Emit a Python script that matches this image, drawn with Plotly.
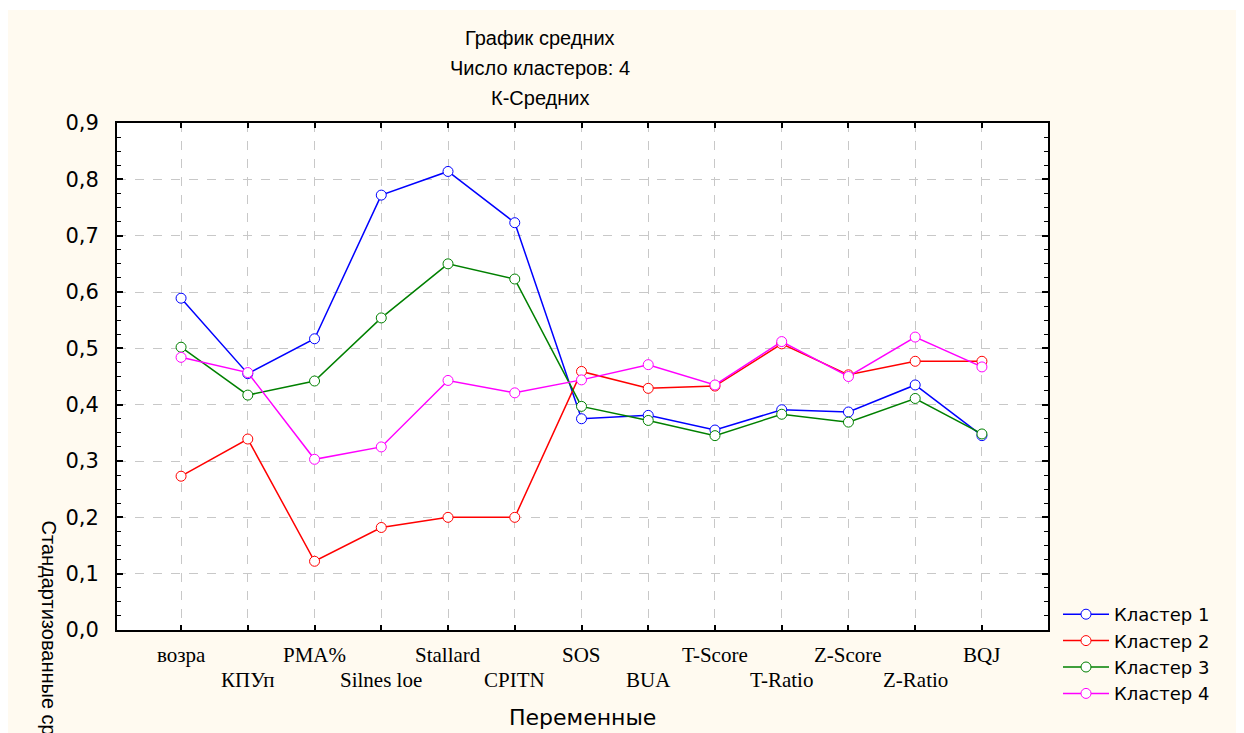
import plotly.graph_objects as go

categories = ["возра", "КПУп", "PMA%", "Silnes loe", "Stallard", "CPITN", "SOS",
              "BUA", "T-Score", "T-Ratio", "Z-Score", "Z-Ratio", "BQJ"]
cluster1 = [0.589, 0.455, 0.517, 0.772, 0.814, 0.723, 0.375, 0.381, 0.355, 0.391, 0.387, 0.435, 0.345]
cluster2 = [0.273, 0.339, 0.122, 0.182, 0.200, 0.200, 0.459, 0.429, 0.433, 0.508, 0.453, 0.477, 0.477]
cluster3 = [0.502, 0.417, 0.442, 0.554, 0.650, 0.623, 0.397, 0.372, 0.345, 0.383, 0.369, 0.411, 0.348]
cluster4 = [0.484, 0.457, 0.303, 0.325, 0.443, 0.421, 0.444, 0.471, 0.435, 0.512, 0.450, 0.520, 0.467]
series_names = ["Кластер 1", "Кластер 2", "Кластер 3", "Кластер 4"]
series_colors = ["#0000FF", "#FF0000", "#008000", "#FF00FF"]
y_ticks = [0.0, 0.1, 0.2, 0.3, 0.4, 0.5, 0.6, 0.7, 0.8, 0.9]
title_lines = ["График средних", "Число кластеров: 4", "К-Средних"]

OFF = 8  # page body margin
W, H = 1244 - OFF, 733 - OFF
L, T = 117 - OFF, 123 - OFF
R = W - (1048 - OFF)
B = H - (630 - OFF)
pw, ph = W - L - R, H - T - B

fig = go.Figure()
for name, vals, col in zip(series_names, [cluster1, cluster2, cluster3, cluster4], series_colors):
    fig.add_trace(go.Scatter(
        x=categories, y=vals, name=name, mode="lines+markers",
        line=dict(color=col, width=1.5),
        marker=dict(symbol="circle", size=10, color="white", line=dict(color=col, width=1)),
    ))

def px_x(p):
    return (p - OFF - L) / pw

def px_y(p):
    return (H - B - (p - OFF)) / ph

cream = "#FFFAF0"
shapes = [
    dict(type="rect", xref="paper", yref="paper", x0=0, x1=1, y0=0, y1=1,
         fillcolor="white", line=dict(width=0), layer="below"),
    dict(type="rect", xref="paper", yref="paper", x0=px_x(0), x1=1.3, y0=px_y(10), y1=px_y(0),
         fillcolor="white", line=dict(width=0), layer="below"),
]

annotations = []
for i, t in enumerate(title_lines):
    annotations.append(dict(text=t, xref="paper", yref="paper", x=px_x(540), y=px_y(38 + 30 * i),
                            xanchor="center", yanchor="middle", showarrow=False,
                            font=dict(family="Liberation Sans, Arial", size=20, color="black")))
for i, c in enumerate(categories):
    yrow = 655 if i % 2 == 0 else 680
    annotations.append(dict(text=c, xref="x", yref="paper", x=c, y=px_y(yrow),
                            xanchor="center", yanchor="middle", showarrow=False,
                            font=dict(family="Liberation Serif, Times New Roman", size=21, color="black")))
annotations.append(dict(text="Переменные", xref="paper", yref="paper", x=px_x(582), y=px_y(717),
                        xanchor="center", yanchor="middle", showarrow=False,
                        font=dict(family="DejaVu Sans, Arial", size=22, color="black")))
annotations.append(dict(text="Стандартизованные средние", xref="paper", yref="paper",
                        x=px_x(49), y=px_y(518), xanchor="center", yanchor="top",
                        textangle=90, showarrow=False,
                        font=dict(family="Liberation Sans, Arial", size=20, color="black")))

fig.update_layout(
    width=W, height=H, autosize=False,
    margin=dict(l=L, r=R, t=T, b=B, pad=0),
    paper_bgcolor=cream, plot_bgcolor="white",
    separators=",.",
    shapes=shapes, annotations=annotations,
    showlegend=True,
    legend=dict(x=px_x(1058), y=px_y(596), xanchor="left", yanchor="top",
                bgcolor="rgba(0,0,0,0)", borderwidth=0, itemwidth=46,
                font=dict(family="DejaVu Sans, Arial", size=18, color="black"),
                tracegroupgap=0),
    xaxis=dict(
        type="category", range=[-0.96, 12.99], showticklabels=False,
        ticks="inside", ticklen=5, tickwidth=1.5, tickcolor="black",
        showline=True, linecolor="black", linewidth=2, mirror="ticks",
        showgrid=True, gridcolor="#c8c8c8", griddash="dash", gridwidth=1,
        zeroline=False,
    ),
    yaxis=dict(
        range=[0, 0.9], tickvals=y_ticks, tickformat=".1f",
        ticks="inside", ticklen=6, tickwidth=1.5, tickcolor="black",
        minor=dict(dtick=0.025, ticks="inside", ticklen=4, tickwidth=1.2, tickcolor="black", showgrid=False),
        showline=True, linecolor="black", linewidth=2, mirror="ticks",
        showgrid=True, gridcolor="#c8c8c8", griddash="dash", gridwidth=1,
        zeroline=False, ticklabelstandoff=12,
        tickfont=dict(family="DejaVu Sans, Arial", size=21, color="black"),
    ),
)

fig.write_html("out.html")
